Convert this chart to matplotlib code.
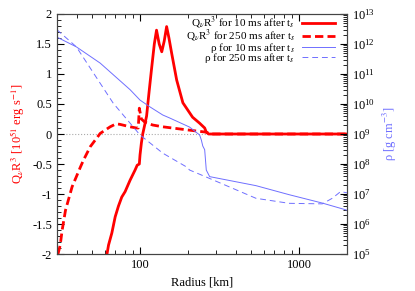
import matplotlib.pyplot as plt
import matplotlib.ticker as ticker
import numpy as np

plt.rcParams['font.family'] = ['Liberation Serif', 'DejaVu Serif']
plt.rcParams['mathtext.fontset'] = 'stix'

# Q_nu R^3 for 10 ms after t_s
r_q10 = [62, 63.4, 66.5, 69.8, 73.2, 76.8, 80.6, 86.6, 93.1, 96, 99, 100, 102,
         104, 107, 110, 114, 118, 123, 127, 132, 137, 142, 147, 152, 158, 170,
         186, 214, 237, 255, 261, 270, 500, 1000, 2000]
q10 = [-2.0, -1.85, -1.65, -1.38, -1.2, -1.05, -0.96, -0.77, -0.6, -0.52, -0.5,
       -0.35, -0.15, 0.0, 0.15, 0.3, 0.7, 1.07, 1.5, 1.73, 1.5, 1.37, 1.55,
       1.79, 1.6, 1.35, 0.9, 0.52, 0.28, 0.18, 0.1, 0.03, 0.0, 0.0, 0.0, 0.0]

# Q_nu R^3 for 250 ms after t_s
r_q250 = [30.5, 31.5, 32.4, 34, 37.4, 42.2, 44.2, 48.7, 56.2, 64.9, 70.8, 75,
          86.6, 95, 97.5, 99, 102, 107, 120, 139, 196, 262, 275, 1000, 2000]
q250 = [-2.0, -1.85, -1.6, -1.27, -0.88, -0.55, -0.43, -0.21, 0.01, 0.12,
        0.17, 0.16, 0.12, 0.1, 0.1, 0.43, 0.25, 0.2, 0.15, 0.12, 0.07, 0.03,
        0.0, 0.0, 0.0]

# density for 10 ms after t_s
r_rho10 = [30, 39.8, 56.2, 86.6, 100, 115.5, 139, 154, 205, 237, 243, 248,
           255, 261, 274, 536, 866, 1399, 2000]
rho10 = [1.7e12, 8e11, 2.3e11, 3e10, 1.35e10, 8e9, 4.3e9, 3.4e9, 1.7e9,
         9.3e8, 6.3e8, 4e8, 3e8, 6.3e7, 3.8e7, 1.9e7, 9.5e6, 5e6, 2.9e6]

# density for 250 ms after t_s
r_rho250 = [30, 39.8, 67.8, 100, 139, 196, 205, 274, 536, 866, 1399, 1616,
            1823, 2000]
rho250 = [3e12, 8e11, 1.07e10, 9.3e8, 2.3e8, 8e7, 6.3e7, 3.3e7, 7.2e6, 4.9e6,
          4.7e6, 7.2e6, 1.2e7, 1.1e7]

rho_ticks = [1e5, 1e6, 1e7, 1e8, 1e9, 1e10, 1e11, 1e12, 1e13]

red = '#ff0000'
blue = '#6f6fff'

fig = plt.figure(figsize=(4.15, 2.91), dpi=100)
ax = fig.add_axes([0.137, 0.127, 0.699, 0.825])
ax2 = ax.twinx()

l1, = ax.plot(r_q10, q10, '-', color=red, lw=2, label=r'Q$_\nu$R$^3$ for 10 ms after t$_s$')
l2, = ax.plot(r_q250, q250, '--', color=red, lw=2, dashes=(3, 1.5),
              label=r'Q$_\nu$R$^3$ for 250 ms after t$_s$')
ax.axhline(0, color='#aaaaaa', lw=0.8, ls=':', zorder=0)
l3, = ax2.plot(r_rho10, rho10, '-', color=blue, lw=0.7, label=r'ρ for 10 ms after t$_s$')
l4, = ax2.plot(r_rho250, rho250, '--', color=blue, lw=0.7, dashes=(6, 4),
               label=r'ρ for 250 ms after t$_s$')

ax.set_xscale('log')
ax.set_xlim(30, 2000)
ax.set_ylim(-2, 2)
ax2.set_yscale('log')
ax2.set_ylim(1e5, 1e13)

ax.xaxis.set_major_locator(ticker.FixedLocator([100, 1000]))
ax.xaxis.set_major_formatter(ticker.FixedFormatter(['100', '1000']))
ax.xaxis.set_minor_locator(ticker.LogLocator(base=10, subs=np.arange(2, 10)))
ax.xaxis.set_minor_formatter(ticker.NullFormatter())
ax.yaxis.set_major_locator(ticker.MultipleLocator(0.5))
ax.yaxis.set_minor_locator(ticker.MultipleLocator(0.1))
ax.yaxis.set_major_formatter(ticker.FuncFormatter(lambda v, p: '%g' % v))
ax2.yaxis.set_major_locator(ticker.FixedLocator(rho_ticks))
ax2.yaxis.set_major_formatter(ticker.LogFormatterMathtext())
ax2.yaxis.set_minor_locator(ticker.LogLocator(base=10, subs=np.arange(2, 10), numticks=20))
ax2.yaxis.set_minor_formatter(ticker.NullFormatter())

ax.tick_params(which='both', direction='in', top=True, right=False, labelsize=9)
ax.tick_params(which='major', length=5)
ax.tick_params(which='minor', length=3)
ax2.tick_params(which='both', direction='in', labelsize=9)
ax2.tick_params(which='major', length=5)
ax2.tick_params(which='minor', length=3)
for a in (ax, ax2):
    for s in a.spines.values():
        s.set_color('#444444')

ax.set_xlabel('Radius [km]', fontsize=9)
ax.set_ylabel(r'Q$_\nu$R$^3$ [10$^{51}$ erg s$^{-1}$]', color=red, fontsize=9)
ax2.set_ylabel(r'ρ [g cm$^{-3}$]', color=blue, fontsize=9, rotation=90)

ax2.legend(handles=[l1, l2, l3, l4], loc='upper right', bbox_to_anchor=(0.959, 0.995),
           frameon=False, markerfirst=False, fontsize=8, handlelength=3.0,
           labelspacing=-0.3, borderaxespad=0.0, borderpad=0.0, handletextpad=0.6)

fig.savefig('out.png', dpi=100)
